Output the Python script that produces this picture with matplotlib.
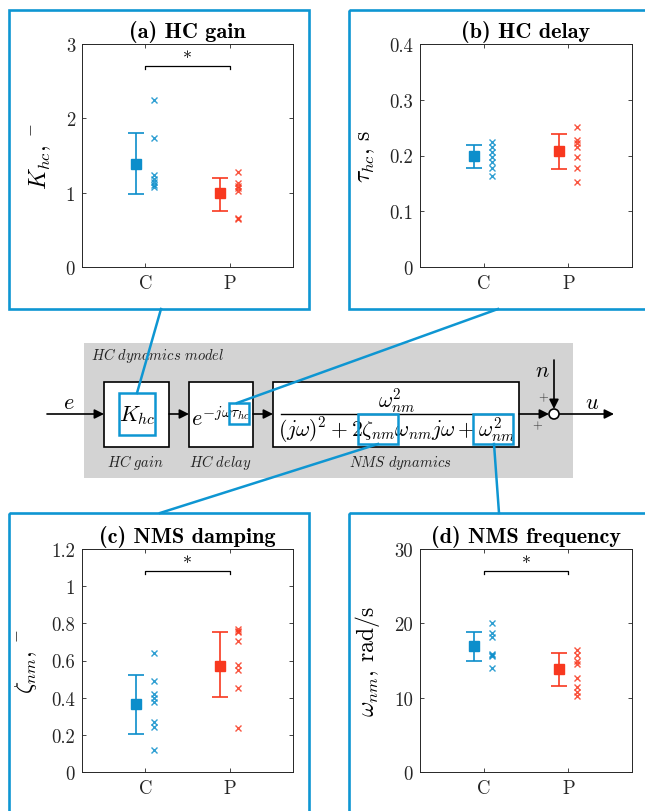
import numpy as np
import matplotlib
matplotlib.use("Agg")
import matplotlib.pyplot as plt
from matplotlib.patches import Rectangle, Circle
from matplotlib.ticker import FormatStrFormatter

plt.rcParams['font.family'] = 'serif'
plt.rcParams['font.serif'] = ['cmr10']
plt.rcParams['mathtext.fontset'] = 'cm'
plt.rcParams['axes.formatter.use_mathtext'] = True
plt.rcParams['axes.unicode_minus'] = False

# data
groups = ['C', 'P']

gain_C = [2.25, 1.74, 1.24, 1.19, 1.14, 1.10, 1.07]
gain_P = [1.28, 1.13, 1.09, 1.06, 1.02, 0.66, 0.64]
gain_mean = [1.39, 0.99]
gain_lo = [0.98, 0.76]
gain_hi = [1.80, 1.20]

delay_C = [0.224, 0.215, 0.207, 0.198, 0.189, 0.177, 0.164]
delay_P = [0.252, 0.227, 0.223, 0.216, 0.198, 0.177, 0.153]
delay_mean = [0.199, 0.208]
delay_lo = [0.177, 0.175]
delay_hi = [0.219, 0.238]

damp_C = [0.64, 0.49, 0.42, 0.40, 0.375, 0.27, 0.24, 0.117]
damp_P = [0.767, 0.760, 0.754, 0.704, 0.577, 0.55, 0.454, 0.235]
damp_mean = [0.368, 0.573]
damp_lo = [0.203, 0.401]
damp_hi = [0.523, 0.751]

freq_C = [20.0, 18.7, 18.1, 15.9, 15.8, 15.6, 14.05]
freq_P = [16.4, 15.8, 14.95, 14.5, 12.6, 11.4, 10.7, 10.2]
freq_mean = [16.9, 13.8]
freq_lo = [14.95, 11.55]
freq_hi = [18.8, 16.05]

blue = '#0c8ecb'
red = '#f8381f'
frame_blue = '#0e96d2'

W, H = 645, 812
fig = plt.figure(figsize=(W / 100, H / 100), dpi=100)

# overlay axes in pixel coordinates for frames and block diagram
ov = fig.add_axes([0, 0, 1, 1], zorder=0)
ov.set_xlim(0, W)
ov.set_ylim(H, 0)
ov.axis('off')


def px_axes(left, top, right, bottom):
    return fig.add_axes([left / W, (H - bottom) / H, (right - left) / W, (bottom - top) / H], zorder=2)


def panel(ax, title, ylabel, ylim, yticks, vals_C, vals_P, mean, lo, hi, sig=None):
    cols = [blue, red]
    for i, vals in enumerate([vals_C, vals_P]):
        x = i + 1
        ax.plot([x + 0.1] * len(vals), vals, 'x', color=cols[i], ms=5, mew=1.0, alpha=0.85)
        err = [[mean[i] - lo[i]], [hi[i] - mean[i]]]
        ax.errorbar([x - 0.11], [mean[i]], yerr=err, fmt='s', color=cols[i], ms=6.5,
                    capsize=6, elinewidth=1.2, capthick=1.2)
    if sig is not None:
        d = (ylim[1] - ylim[0]) * 0.01
        ax.plot([1, 1, 2, 2], [sig - d, sig, sig, sig - d], color='k', lw=0.9)
        ax.text(1.5, sig, '*', ha='center', va='bottom', fontsize=13)
    ax.set_xlim(0.25, 2.75)
    ax.set_ylim(ylim)
    ax.set_xticks([1, 2])
    ax.set_xticklabels(groups)
    ax.set_yticks(yticks)
    ax.yaxis.set_major_formatter(FormatStrFormatter('%g'))
    ax.tick_params(direction='in', length=3, width=0.6, top=True, right=True,
                   labelsize=13.5, colors='#262626', pad=5)
    for s in ax.spines.values():
        s.set_linewidth(0.7)
        s.set_color('#262626')
    ax.set_title(title, fontfamily='cmb10', fontsize=16, pad=5)
    ax.set_ylabel(ylabel, fontsize=17, labelpad=9)


ax_a = px_axes(82, 45, 293, 268)
ax_b = px_axes(420, 45, 632, 268)
ax_c = px_axes(82, 550, 293, 773)
ax_d = px_axes(420, 550, 632, 773)

panel(ax_a, '(a) HC gain', r'$K_{hc},\,^{-}$', (0, 3), [0, 1, 2, 3],
      gain_C, gain_P, gain_mean, gain_lo, gain_hi, sig=2.7)
panel(ax_b, '(b) HC delay', r'$\tau_{hc}$, s', (0, 0.4), [0, 0.1, 0.2, 0.3, 0.4],
      delay_C, delay_P, delay_mean, delay_lo, delay_hi)
panel(ax_c, '(c) NMS damping', r'$\zeta_{nm},\,^{-}$', (0, 1.2), [0, 0.2, 0.4, 0.6, 0.8, 1, 1.2],
      damp_C, damp_P, damp_mean, damp_lo, damp_hi, sig=1.08)
panel(ax_d, '(d) NMS frequency', r'$\omega_{nm}$, rad/s', (0, 30), [0, 10, 20, 30],
      freq_C, freq_P, freq_mean, freq_lo, freq_hi, sig=27)

# blue frames around the panels
for (x0, y0, x1, y1) in [(9, 11, 309, 310), (349, 11, 650, 310), (9, 514, 309, 830), (349, 514, 650, 830)]:
    ov.add_patch(Rectangle((x0, y0), x1 - x0, y1 - y0, fill=False, ec=frame_blue, lw=1.9))

# block diagram
ov.add_patch(Rectangle((84, 344), 489, 135, fc='#d3d3d3', ec='none'))
blocks = [(104, 383, 169, 448), (189, 383, 253, 448), (273, 383, 519, 448)]
rects = []
for (x0, y0, x1, y1) in blocks:
    r = Rectangle((x0, y0), x1 - x0, y1 - y0, fc='white', ec='black', lw=1.2)
    ov.add_patch(r)
    rects.append(r)

ov.text(91, 356, r'$\mathit{HC\ dynamics\ model}$', fontsize=10.5, ha='left', va='center', color='#222222')
for x, lab in [(135, 'HC\ gain'), (220, 'HC\ delay'), (400, 'NMS\ dynamics')]:
    ov.text(x, 463, r'$\mathit{' + lab + '}$', fontsize=10.5, ha='center', va='center', color='#222222')

ov.text(137, 416, r'$K_{hc}$', fontsize=16, ha='center', va='center')
t = ov.text(191, 418, r'$e^{-j\omega\tau_{hc}}$', fontsize=16, ha='left', va='center')
t.set_clip_path(rects[1])
ov.text(397, 401, r'$\omega_{nm}^2$', fontsize=15.5, ha='center', va='center')
ov.plot([281, 512], [415, 415], color='black', lw=1.0)
ov.text(397, 430, r'$(j\omega)^2+2\zeta_{nm}\omega_{nm}j\omega+\omega_{nm}^2$', fontsize=15.5,
        ha='center', va='center')

arrow = dict(arrowstyle='-|>', color='black', lw=1.2, mutation_scale=14, shrinkA=0, shrinkB=0)
for (xa, xb) in [(47, 104), (169, 189), (253, 273), (519, 549), (559, 614)]:
    ov.annotate('', xy=(xb, 415), xytext=(xa, 415), arrowprops=arrow)
ov.annotate('', xy=(554, 410), xytext=(554, 361), arrowprops=arrow)
ov.add_patch(Circle((554, 415), 5, fc='white', ec='black', lw=1.2, zorder=5))
ov.text(69, 403, r'$e$', fontsize=16, ha='center', va='center')
ov.text(592, 403, r'$u$', fontsize=16, ha='center', va='center')
ov.text(542, 371, r'$n$', fontsize=16, ha='center', va='center')
ov.text(543, 398, '+', fontsize=9, ha='center', va='center', color='#333333')
ov.text(537, 426, '+', fontsize=9, ha='center', va='center', color='#333333')

# highlighted parameters and connectors
for (x0, y0, x1, y1) in [(119, 394, 155, 436), (229, 404, 249, 425), (358, 415, 398, 445), (473, 415, 513, 445)]:
    ov.add_patch(Rectangle((x0, y0), x1 - x0, y1 - y0, fill=False, ec=frame_blue, lw=1.8, zorder=6))
for (xa, ya, xb, yb) in [(161, 310, 137, 394), (498, 310, 237, 404), (378, 445, 160, 514), (494, 445, 499, 514)]:
    ov.plot([xa, xb], [ya, yb], color=frame_blue, lw=1.8, zorder=6)

fig.savefig('out.png', dpi=100)
